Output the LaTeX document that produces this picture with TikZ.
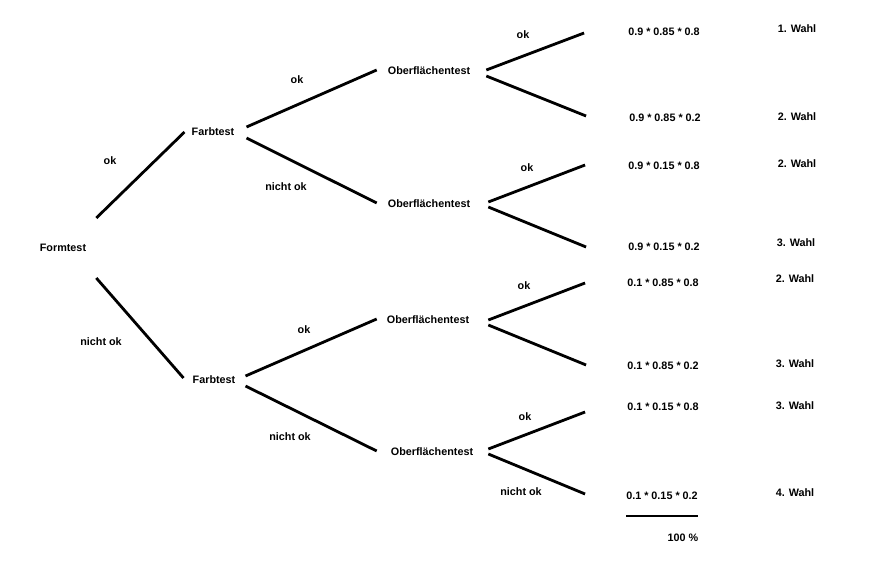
\documentclass[tikz,border=0pt]{standalone}
\usepackage{fontspec}
\setmainfont{Liberation Sans}
\usepackage{tikz}
\usetikzlibrary{calc}

\tikzset{
  lbl/.style={font=\bfseries\fontsize{10.8}{13}\selectfont, inner sep=2pt},
  branch/.style={line width=2.8pt},
}

\begin{document}
\begin{tikzpicture}[x=1pt,y=-1pt]

        \useasboundingbox (0,0) rectangle (880,562);

        % Stufen
        \node [lbl] (form) at (63,248) {Formtest};
        \node [lbl] (farbA) at (213,132) {Farbtest};
        \node [lbl] (farbB) at (214,380) {Farbtest};
        \node [lbl] (obA) at (429,71) {Oberflächentest};
        \node [lbl] (obB) at (429,204) {Oberflächentest};
        \node [lbl] (obC) at (428,320) {Oberflächentest};
        \node [lbl] (obD) at (432,452) {Oberflächentest};

        % Produkte
        \node [lbl] (pA) at (664,32) {0.9 * 0.85 * 0.8};
        \node [lbl] (pB) at (665,118) {0.9 * 0.85 * 0.2};
        \node [lbl] (pC) at (664,166) {0.9 * 0.15 * 0.8};
        \node [lbl] (pD) at (664,247) {0.9 * 0.15 * 0.2};
        \node [lbl] (pE) at (663,283) {0.1 * 0.85 * 0.8};
        \node [lbl] (pF) at (663,366) {0.1 * 0.85 * 0.2};
        \node [lbl] (pG) at (663,407) {0.1 * 0.15 * 0.8};
        \node [lbl] (pH) at (662,496) {0.1 * 0.15 * 0.2};

        % Wahl
        \node [lbl] (wA) at (797,29) {1. Wahl};
        \node [lbl] (wB) at (797,117) {2. Wahl};
        \node [lbl] (wC) at (797,164) {2. Wahl};
        \node [lbl] (wD) at (796,243) {3. Wahl};
        \node [lbl] (wE) at (795,279) {2. Wahl};
        \node [lbl] (wF) at (795,364) {3. Wahl};
        \node [lbl] (wG) at (795,406) {3. Wahl};
        \node [lbl] (wH) at (795,493) {4. Wahl};

        % Aeste
        \draw [branch] ($(form.east)+(8,-30)$) -- ($(farbA.west)+(-5,0)$);
        \draw [branch] ($(form.east)+(8,30)$) -- ($(farbB.west)+(-7,-2)$);

        \draw [branch] ($(farbA.east)+(10,-5)$) -- ($(obA.west)+(-9,-1)$);
        \draw [branch] ($(farbA.east)+(10,6)$) -- ($(obB.west)+(-9,-1)$);
        \draw [branch] ($(farbB.east)+(8,-4)$) -- ($(obC.west)+(-8,-1)$);
        \draw [branch] ($(farbB.east)+(8,6)$) -- ($(obD.west)+(-12,-1)$);

        \draw [branch] ($(obA.east)+(14,-1)$) -- ($(pA.west)+(-42,1)$);
        \draw [branch] ($(obA.east)+(14,5)$) -- ($(pB.west)+(-41,-2)$);
        \draw [branch] ($(obB.east)+(16,-2)$) -- ($(pC.west)+(-41,-1)$);
        \draw [branch] ($(obB.east)+(16,3)$) -- ($(pD.west)+(-40,0)$);
        \draw [branch] ($(obC.east)+(17,0)$) -- ($(pE.west)+(-40,0)$);
        \draw [branch] ($(obC.east)+(17,5)$) -- ($(pF.west)+(-39,-1)$);
        \draw [branch] ($(obD.east)+(13,-3)$) -- ($(pG.west)+(-40,5)$);
        \draw [branch] ($(obD.east)+(13,2)$) -- ($(pH.west)+(-39,-2)$);

        % Beschriftungen
        \node [lbl] (okA) at (110,161) {ok};
        \node [lbl] (nokA) at (101,342) {nicht ok};
        \node [lbl] (okB) at (297,80) {ok};
        \node [lbl] (nokB) at (286,187) {nicht ok};
        \node [lbl] (okC) at (304,330) {ok};
        \node [lbl] (nokC) at (290,437) {nicht ok};
        \node [lbl] (okD) at (523,35) {ok};
        \node [lbl] (okE) at (527,168) {ok};
        \node [lbl] (okF) at (524,286) {ok};
        \node [lbl] (okG) at (525,417) {ok};
        \node [lbl] (nokG) at (521,492) {nicht ok};

        % Summe
        \node [lbl] (sum) at (683,538) {100 \%};
        \draw [line width=2.4pt] ($(pH.south west)+(2,14)$) -- ($(pH.south east)+(-2,14)$);

\end{tikzpicture}
\end{document}
